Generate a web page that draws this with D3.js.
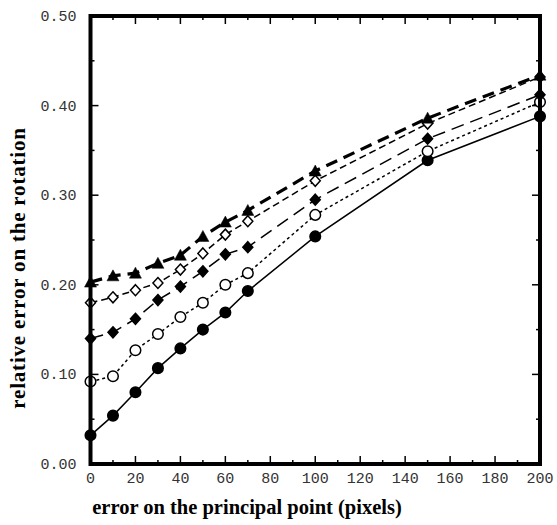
<!DOCTYPE html>
<html>
<head>
<meta charset="utf-8">
<script src="https://cdn.jsdelivr.net/npm/d3@7"></script>
<style>
  body { margin: 0; background: #fff; }
  svg { display: block; }
</style>
</head>
<body>
<div id="chart"></div>
<script>
// x values: error on the principal point (pixels)
var xVals = [0, 10, 20, 30, 40, 50, 60, 70, 100, 150, 200];

// relative error on the rotation, one array per curve
var filledCircle  = [0.032, 0.054, 0.080, 0.107, 0.129, 0.150, 0.169, 0.193, 0.254, 0.339, 0.388];
var openCircle    = [0.092, 0.098, 0.127, 0.145, 0.164, 0.180, 0.200, 0.213, 0.278, 0.349, 0.404];
var filledDiamond = [0.140, 0.147, 0.162, 0.183, 0.198, 0.215, 0.234, 0.242, 0.295, 0.363, 0.412];
var openDiamond   = [0.180, 0.186, 0.194, 0.202, 0.217, 0.235, 0.256, 0.271, 0.316, 0.380, 0.432];
var filledTri     = [0.203, 0.210, 0.213, 0.224, 0.233, 0.254, 0.270, 0.283, 0.327, 0.386, 0.434];

var xTicks = [0, 20, 40, 60, 80, 100, 120, 140, 160, 180, 200];
var yTicks = [0, 0.1, 0.2, 0.3, 0.4, 0.5];
var yTickLabels = ["0.00", "0.10", "0.20", "0.30", "0.40", "0.50"];

var W = 557, H = 525;
var margin = {top: 16, right: 17, bottom: 61, left: 90.5};

var svg = d3.select("#chart").append("svg")
	.attr("width", W)
	.attr("height", H);

var x = d3.scaleLinear().domain([0, 200]).range([margin.left, W - margin.right]);
var y = d3.scaleLinear().domain([0, 0.5]).range([H - margin.bottom, margin.top]);

// series: data, marker, dash, line width
var series = [
	{vals: filledCircle,  mark: "circle",  fill: "#000", dash: null,     lw: 1.5},
	{vals: openCircle,    mark: "circle",  fill: "#fff", dash: "3,3",    lw: 1.5},
	{vals: filledDiamond, mark: "diamond", fill: "#000", dash: "13,7",   lw: 1.5},
	{vals: openDiamond,   mark: "diamond", fill: "#fff", dash: "7,4",    lw: 1.5},
	{vals: filledTri,     mark: "tri",     fill: "#000", dash: "12,7",   lw: 3.2}
];

var line = d3.line()
	.x(function(d) { return x(d[0]); })
	.y(function(d) { return y(d[1]); });

// ticks (inside, all four sides)
var g = svg.append("g").attr("stroke", "#000").attr("stroke-width", 1.5);
for (var t = 0; t <= 200; t += 10) {
	var len = (t % 20 === 0) ? 8 : 4;
	g.append("line").attr("x1", x(t)).attr("x2", x(t)).attr("y1", y(0)).attr("y2", y(0) - len);
	g.append("line").attr("x1", x(t)).attr("x2", x(t)).attr("y1", y(0.5)).attr("y2", y(0.5) + len);
}
for (var k = 0; k <= 10; k++) {
	var v = k * 0.05;
	var ylen = (k % 2 === 0) ? 8 : 4;
	g.append("line").attr("x1", x(0)).attr("x2", x(0) + ylen).attr("y1", y(v)).attr("y2", y(v));
	g.append("line").attr("x1", x(200)).attr("x2", x(200) - ylen).attr("y1", y(v)).attr("y2", y(v));
}

// curves
series.forEach(function(s) {
	var pts = xVals.map(function(xv, i) { return [xv, s.vals[i]]; });
	svg.append("path")
		.datum(pts)
		.attr("d", line)
		.attr("fill", "none")
		.attr("stroke", "#000")
		.attr("stroke-width", s.lw)
		.attr("stroke-dasharray", s.dash);
});

// markers
series.forEach(function(s) {
	var pts = xVals.map(function(xv, i) { return [xv, s.vals[i]]; });
	var sel = svg.append("g").selectAll("path").data(pts).enter().append("path")
		.attr("transform", function(d) { return "translate(" + x(d[0]) + "," + y(d[1]) + ")"; })
		.attr("fill", s.fill)
		.attr("stroke", "#000")
		.attr("stroke-width", 1.5);
	if (s.mark === "circle") {
		sel.attr("d", d3.symbol().type(d3.symbolCircle).size(88));
	} else if (s.mark === "diamond") {
		sel.attr("d", "M0,-5.5L5,0L0,5.5L-5,0Z");
	} else {
		sel.attr("d", "M0,-6L6,5L-6,5Z").attr("stroke-width", 0.5);
	}
});

// frame
svg.append("rect")
	.attr("x", x(0)).attr("y", y(0.5))
	.attr("width", x(200) - x(0)).attr("height", y(0) - y(0.5))
	.attr("fill", "none")
	.attr("stroke", "#000")
	.attr("stroke-width", 4);

// tick labels
svg.append("g").selectAll("text").data(xTicks).enter().append("text")
	.attr("x", function(d) { return x(d); })
	.attr("y", y(0) + 19)
	.attr("text-anchor", "middle")
	.attr("fill", "#333")
	.style("font-family", "'Liberation Mono', 'Courier New', monospace")
	.style("font-size", "15px")
	.text(function(d) { return d; });

svg.append("g").selectAll("text").data(yTicks).enter().append("text")
	.attr("x", x(0) - 14)
	.attr("y", function(d) { return y(d) + 5; })
	.attr("text-anchor", "end")
	.attr("fill", "#333")
	.style("font-family", "'Liberation Mono', 'Courier New', monospace")
	.style("font-size", "15px")
	.text(function(d, i) { return yTickLabels[i]; });

// axis titles
svg.append("text")
	.attr("x", 247)
	.attr("y", 514)
	.attr("text-anchor", "middle")
	.style("font-family", "'Liberation Serif', 'Times New Roman', serif")
	.style("font-weight", "bold")
	.style("font-size", "20.5px")
	.text("error on the principal point (pixels)");

svg.append("text")
	.attr("transform", "translate(25,268) rotate(-90)")
	.attr("text-anchor", "middle")
	.style("font-family", "'Liberation Serif', 'Times New Roman', serif")
	.style("font-weight", "bold")
	.style("font-size", "21px")
	.style("letter-spacing", "0.8px")
	.text("relative error on the rotation");
</script>
</body>
</html>
